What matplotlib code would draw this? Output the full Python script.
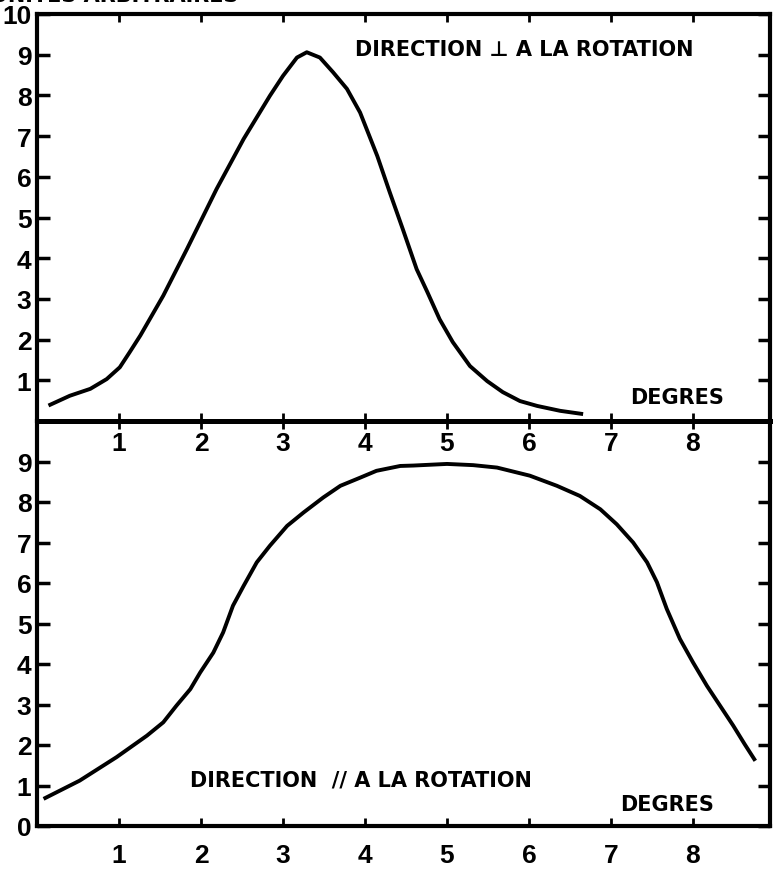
import matplotlib
matplotlib.use("Agg")
import matplotlib.pyplot as plt

# Intensity vs. angle, perpendicular to the rotation direction
perp_deg = [0.14, 0.40, 0.65, 0.85, 1.01, 1.13, 1.26, 1.54, 1.83, 2.19, 2.52,
            2.84, 3.00, 3.17, 3.29, 3.45, 3.61, 3.78, 3.94, 4.15, 4.30, 4.46,
            4.63, 4.76, 4.91, 5.07, 5.28, 5.49, 5.68, 5.89, 6.10, 6.38, 6.66]
perp_val = [0.38, 0.62, 0.79, 1.03, 1.32, 1.69, 2.10, 3.08, 4.23, 5.70, 6.93,
            7.99, 8.48, 8.93, 9.06, 8.93, 8.57, 8.16, 7.58, 6.51, 5.63, 4.72,
            3.73, 3.17, 2.50, 1.94, 1.35, 0.98, 0.71, 0.49, 0.37, 0.25, 0.17]

# Intensity vs. angle, parallel to the rotation direction
par_deg = [0.08, 0.52, 0.97, 1.34, 1.54, 1.70, 1.87, 1.99, 2.15, 2.27, 2.39,
           2.52, 2.68, 2.84, 3.05, 3.25, 3.49, 3.70, 3.94, 4.14, 4.43, 4.59,
           5.00, 5.32, 5.61, 6.01, 6.34, 6.62, 6.87, 7.07, 7.27, 7.44, 7.56,
           7.68, 7.84, 8.00, 8.17, 8.33, 8.49, 8.63, 8.76]
par_val = [0.67, 1.12, 1.70, 2.23, 2.56, 2.97, 3.38, 3.79, 4.28, 4.78, 5.44,
           5.93, 6.51, 6.92, 7.41, 7.74, 8.11, 8.40, 8.60, 8.77, 8.89, 8.90,
           8.94, 8.91, 8.85, 8.65, 8.40, 8.15, 7.82, 7.45, 7.00, 6.51, 6.02,
           5.36, 4.62, 4.04, 3.46, 2.97, 2.48, 2.02, 1.61]

x_ticks = [1, 2, 3, 4, 5, 6, 7, 8]
top_y_ticks = [1, 2, 3, 4, 5, 6, 7, 8, 9, 10]
bot_y_ticks = [0, 1, 2, 3, 4, 5, 6, 7, 8, 9]

TXT_FAM = ["DejaVu Sans"]
NUM_FAM = ["Liberation Sans", "DejaVu Sans"]
plt.rcParams["font.family"] = TXT_FAM
plt.rcParams["font.weight"] = "bold"

W, H = 774, 870
fig = plt.figure(figsize=(W / 100, H / 100), dpi=100)
fig.patch.set_facecolor("white")

x_left, x_right = 37, 770
ax_bot = fig.add_axes([x_left / W, (H - 827) / H, (x_right - x_left) / W, 405 / H])
ax_top = fig.add_axes([x_left / W, (H - 422) / H, (x_right - x_left) / W, 407 / H])

XMAX = (x_right - x_left) / 82.0
for ax in (ax_top, ax_bot):
    ax.set_xlim(0, XMAX)
    ax.set_ylim(0, 10)
    ax.patch.set_visible(False)
    for s in ax.spines.values():
        s.set_linewidth(3.0)
        s.set_color("black")
ax_bot.spines["top"].set_visible(False)
ax_top.spines["bottom"].set_linewidth(3.6)

ax_top.plot(perp_deg, perp_val, color="black", lw=2.8,
            solid_capstyle="butt", solid_joinstyle="round")
ax_bot.plot(par_deg, par_val, color="black", lw=2.8,
            solid_capstyle="butt", solid_joinstyle="round")

lab_fs = 19
# top panel ticks
ax_top.set_xticks(x_ticks)
ax_top.set_xticklabels([str(v) for v in x_ticks], family=NUM_FAM)
ax_top.tick_params(axis="x", direction="in", top=True, bottom=True,
                   labelbottom=True, length=6, width=2, pad=7,
                   labelsize=lab_fs)
ax_top.set_yticks(top_y_ticks)
ax_top.set_yticklabels([str(v) for v in top_y_ticks], family=NUM_FAM)
ax_top.tick_params(axis="y", direction="in", left=True, right=True,
                   length=9, width=2.5, pad=4, labelsize=lab_fs)

# bottom panel ticks
ax_bot.set_xticks(x_ticks)
ax_bot.set_xticklabels([str(v) for v in x_ticks], family=NUM_FAM)
ax_bot.tick_params(axis="x", direction="in", top=True, bottom=True,
                   labeltop=False, labelbottom=True, length=6, width=2,
                   pad=12, labelsize=lab_fs)
ax_bot.set_yticks(bot_y_ticks)
ax_bot.set_yticklabels([str(v) for v in bot_y_ticks], family=NUM_FAM)
ax_bot.tick_params(axis="y", direction="in", left=True, right=True,
                   length=9, width=2.5, pad=4, labelsize=lab_fs)

txt_fs = 15
ax_top.text(3.88, 9.14, "DIRECTION \u22a5 A LA ROTATION", fontsize=txt_fs,
            ha="left", va="center", family=TXT_FAM, fontweight="bold")
ax_top.text(7.23, 0.59, "DEGRES", fontsize=15, ha="left", va="center",
            family=TXT_FAM, fontweight="bold")
ax_bot.text(1.87, 1.14, "DIRECTION  // A LA ROTATION", fontsize=txt_fs,
            ha="left", va="center", family=TXT_FAM, fontweight="bold")
ax_bot.text(7.11, 0.54, "DEGRES", fontsize=15, ha="left", va="center",
            family=TXT_FAM, fontweight="bold")

# y-axis unit caption, running off the top edge of the sheet
fig.text(-0.012, 1 - 2 / H, "UNITES ARBITRAIRES", fontsize=txt_fs,
         ha="left", va="baseline", family=TXT_FAM, fontweight="bold")

fig.savefig("out.png", dpi=100, facecolor="white")
